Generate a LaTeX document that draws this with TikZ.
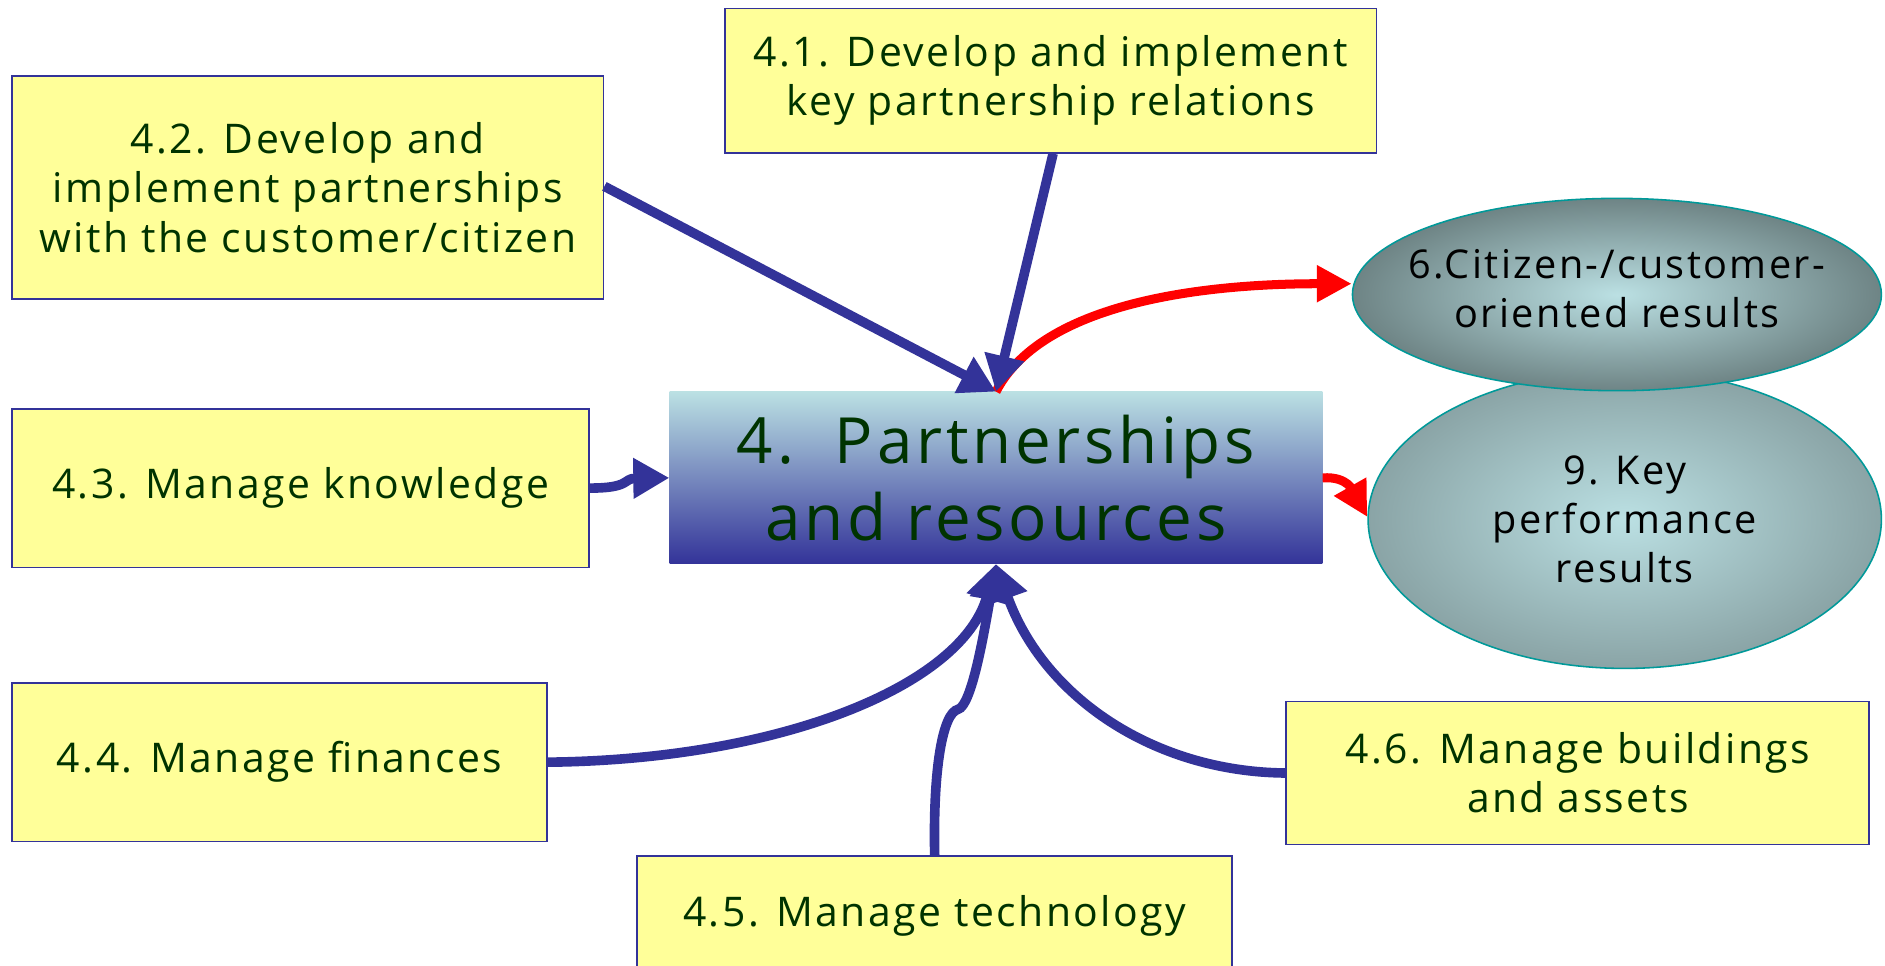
\documentclass[tikz,border=0pt]{standalone}
\usepackage{fontspec}
\setmainfont{Open Sans}
\newfontfamily\spacedfont[LetterSpace=6]{Open Sans}
\usetikzlibrary{arrows.meta,calc,shapes.geometric}
\definecolor{boxyellow}{HTML}{FFFF99}
\definecolor{navy}{HTML}{333399}
\definecolor{dkgreen}{HTML}{003300}
\definecolor{lightcyan}{HTML}{BBE0E3}
\definecolor{midcyan}{HTML}{A0BCCC}
\definecolor{tealsix}{HTML}{6E8485}
\definecolor{tealnine}{HTML}{8AA4A6}
\definecolor{ellborder}{HTML}{009999}
\begin{document}
\begin{tikzpicture}[x=1pt,y=-1pt,
  ybox/.style={draw=navy, line width=1.5pt, fill=boxyellow, text=dkgreen, align=center,
    font=\spacedfont\fontsize{34}{41}\selectfont, inner sep=0pt},
  ellnode/.style={ellipse, draw=ellborder, line width=1.3pt, inner color=lightcyan, inner sep=0pt},
  elltext/.style={align=center, text=black, font=\spacedfont\fontsize{33}{41}\selectfont, inner sep=0pt},
  bluearrow/.style={draw=navy, line width=8pt, -{Triangle[length=30pt,width=32pt]}},
  redarrow/.style={draw=red, line width=7.5pt, -{Triangle[length=29pt,width=29pt]}}]
\useasboundingbox (0,0) rectangle (1568,803.5);
\clip (0,0) rectangle (1568,803.5);
\fill[white] (0,0) rectangle (1568,803.5);

% boxes
\node[ybox, minimum width=542pt, minimum height=120pt] (n41) at (874,67)
  {4.1. Develop and implement\\key partnership relations};
\node[ybox, minimum width=492pt, minimum height=186pt] (n42) at (256,156)
  {4.2. Develop and\\implement partnerships\\with the customer/citizen};
\node[ybox, minimum width=480pt, minimum height=132pt] (n43) at (250,406)
  {4.3. Manage knowledge};
\node[ybox, minimum width=445pt, minimum height=132pt] (n44) at (232.5,634)
  {4.4. Manage finances};
\node[ybox, minimum width=495pt, minimum height=100pt] (n45) at (777.5,762)
  {4.5. Manage technology};
\node[ybox, minimum width=485pt, minimum height=119pt] (n46) at (1312.5,643)
  {4.6. Manage buildings\\and assets};

% ellipses
\node[ellnode, outer color=tealnine, minimum width=427pt, minimum height=248pt] (e9) at (1351.5,432) {};
\node[elltext] (e9t) at (e9.center) {9. Key\\performance\\results};
\node[ellnode, outer color=tealsix, minimum width=440pt, minimum height=160pt] (e6) at (1345,245) {};
\node[elltext] (e6t) at ($(e6.center)+(0,-5)$) {6.Citizen-/customer-\\oriented results};

% centre box
\node[rectangle, minimum width=543pt, minimum height=143pt, inner sep=0pt,
  top color=lightcyan, middle color=midcyan, bottom color=navy, text=dkgreen, align=center,
  font=\spacedfont\fontsize{53}{64}\selectfont] (c) at (828.5,397.5)
  {4.\ \ Partnerships\\and resources};

% red arrows
\draw[redarrow] (c.north) .. controls (865,255) and (990,236) .. (e6.west |- 0,236);
\draw[redarrow] (c.east) .. controls (1122,396) and (1126,410) .. ($(e9.west)+(0,-2)$);

% blue arrows
\draw[bluearrow] (n42.east |- 0,155) -- (c.north);
\draw[bluearrow] ($(n41.south)+(2,0)$) -- (c.north);
\draw[bluearrow] (n43.east) .. controls (525,406) and (518,398) .. (c.west);
\draw[bluearrow] (n44.east) .. controls (650,632) and (800,570) .. (c.south);
\draw[bluearrow] (n45.north) .. controls (776,640) and (784,593) .. (797,590)
  .. controls (808,587) and (818,530) .. (c.south);
\draw[bluearrow] (n46.west) .. controls (960,642) and (868,580) .. (c.south);
\end{tikzpicture}
\end{document}
